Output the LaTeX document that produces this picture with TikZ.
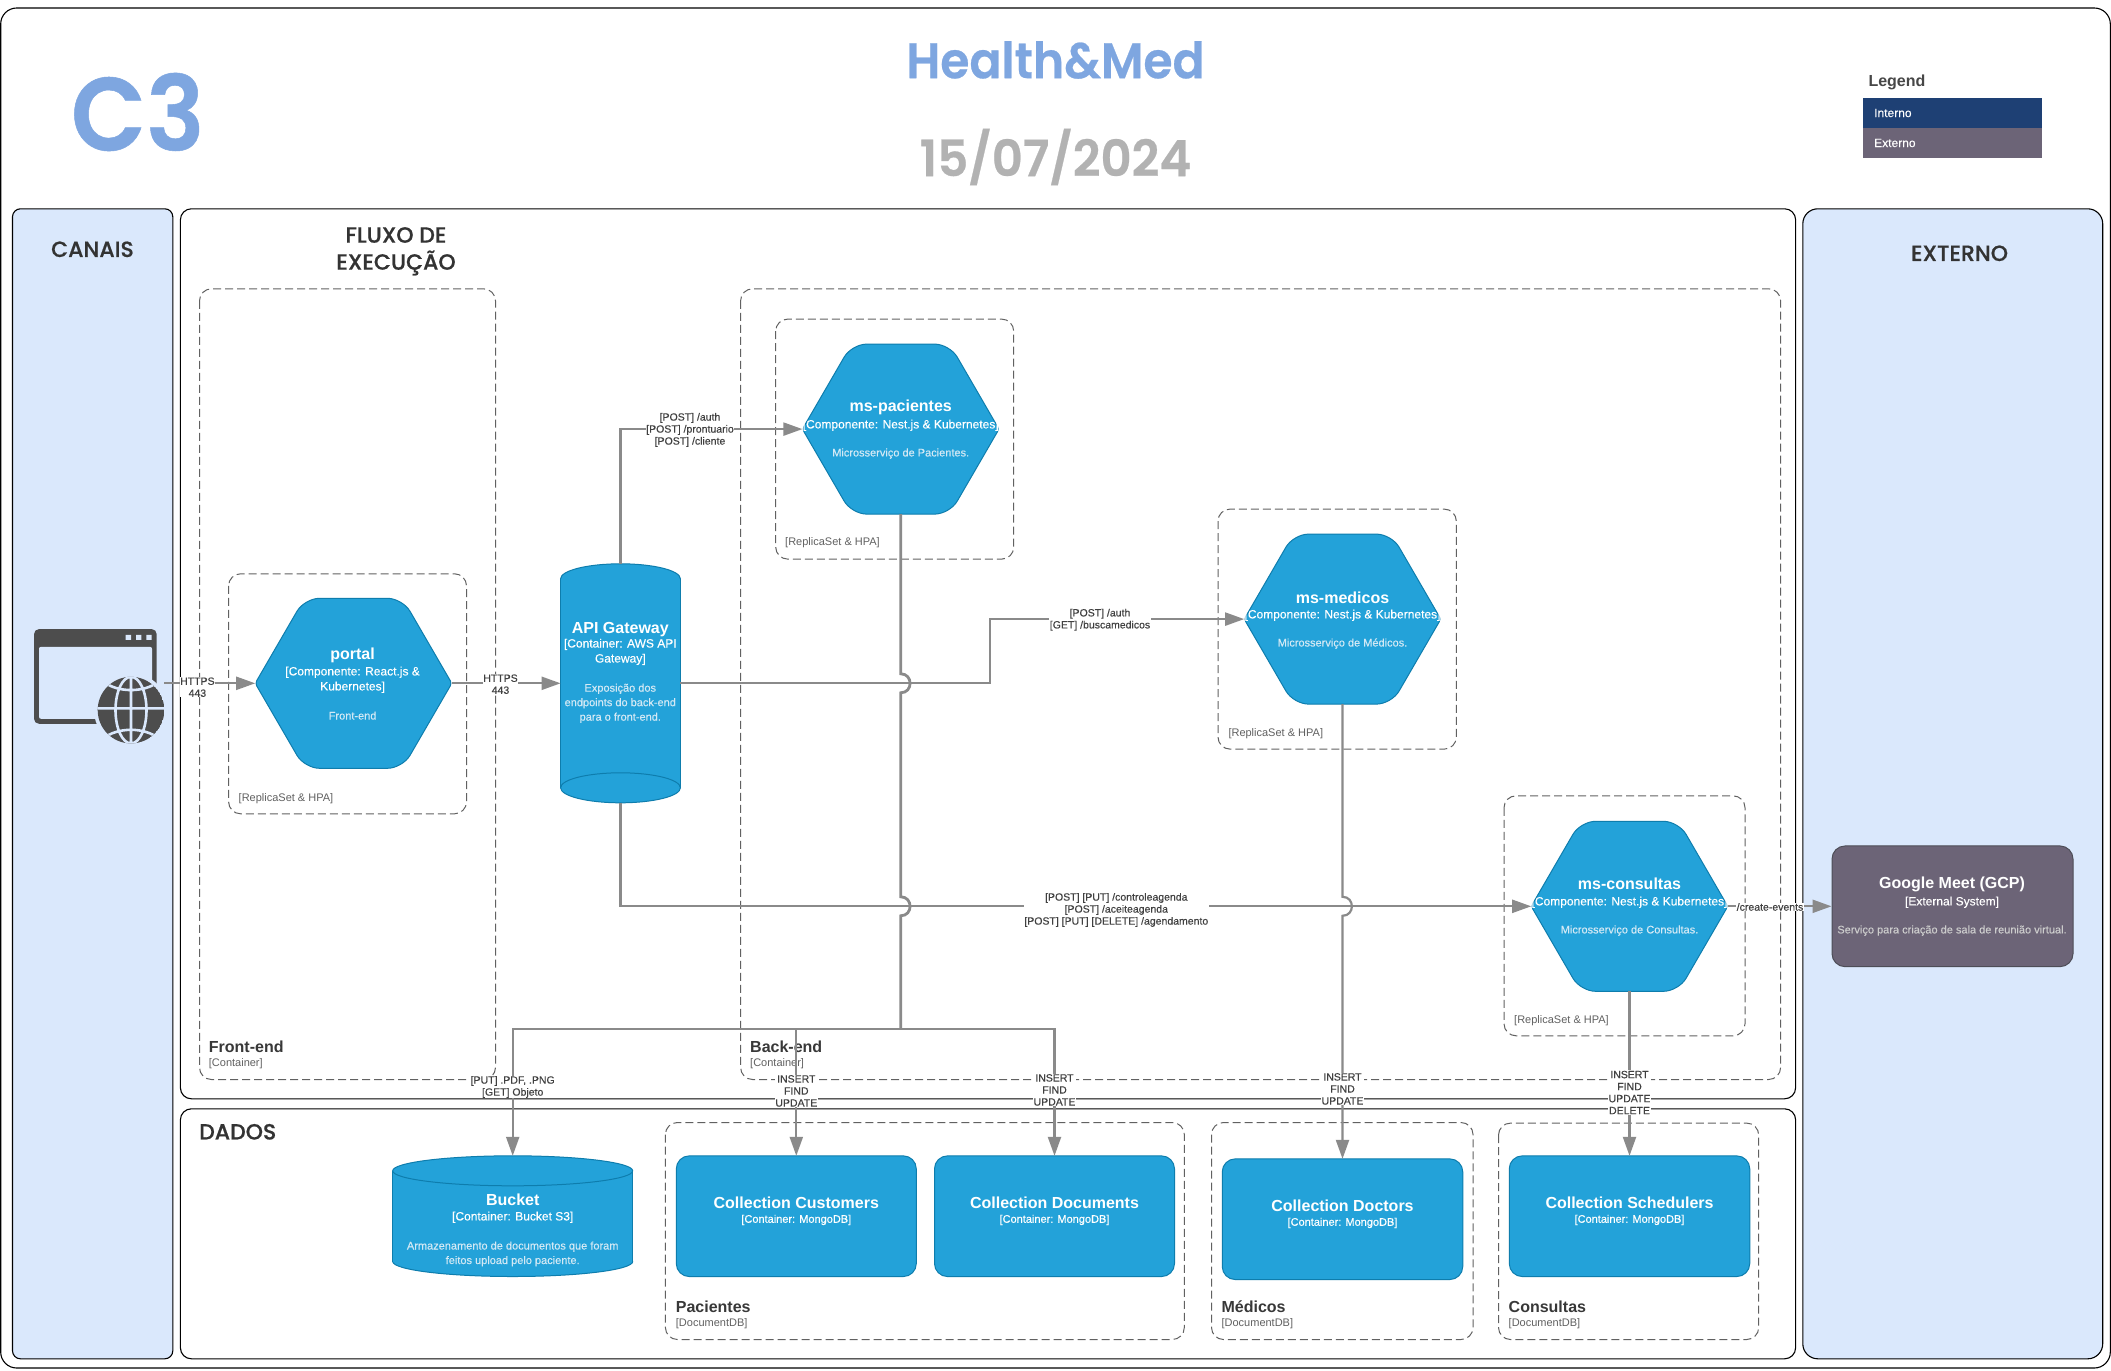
\documentclass[tikz,border=0pt]{standalone}
\usepackage{fontspec}
\setmainfont{Liberation Sans}
\newfontfamily\popfont{Poppins SemiBold}[FakeBold=0.5]
\newfontfamily\headfont{Poppins Medium}[FakeBold=0.7]
\newfontfamily\subfont{Liberation Sans}[FakeBold=0.3]
\usetikzlibrary{arrows.meta,calc}
\definecolor{nodeblue}{HTML}{23A2D9}
\definecolor{nodeedge}{HTML}{0E7DAD}
\definecolor{extgray}{HTML}{6C6477}
\definecolor{extedge}{HTML}{4D4D57}
\definecolor{navy}{HTML}{1E4074}
\definecolor{panelblue}{HTML}{DAE8FC}
\definecolor{edgegray}{HTML}{8A8A8A}
\definecolor{titleblue}{HTML}{7EA6E0}
\definecolor{iconDark}{HTML}{4D4D4D}
\definecolor{descBlue}{HTML}{D3E9F5}
\tikzset{
  panel/.style={draw=black,line width=1.1pt},
  dashbox/.style={draw=black!62,line width=1pt,dash pattern=on 8pt off 4pt,rounded corners=12pt},
  edgeline/.style={draw=edgegray,line width=2.2pt},
  edgearrow/.style={edgeline,-{Triangle[length=19pt,width=13pt]}},
  edgelabel/.style={font=\subfont\fontsize{10.5}{12}\selectfont,text=black!75,fill=white,inner sep=0.5pt,align=center,yshift=-0.4pt},
  blockfill/.style={fill=nodeblue,draw=nodeedge,line width=1pt},
  anchorbox/.style={rectangle,inner sep=0pt,outer sep=0pt,draw=none,fill=none},
  rectblock/.style={rectangle,inner sep=0pt,outer sep=0pt,fill=nodeblue,draw=nodeedge,line width=1pt,rounded corners=13pt},
  nodetitle/.style={font=\fontsize{16}{18}\selectfont\bfseries,text=white,inner sep=0pt,yshift=0pt},
  nodesub/.style={font=\subfont\fontsize{12}{15}\selectfont,text=white,inner sep=0pt,align=center,yshift=-0.8pt},
  smallsub/.style={font=\subfont\fontsize{11}{13}\selectfont,text=white,inner sep=0pt,yshift=-0.8pt},
  nodedesc/.style={font=\subfont\fontsize{11}{14.5}\selectfont,text=descBlue,inner sep=0pt,align=center,yshift=-0.8pt},
  boxtitle/.style={font=\fontsize{16}{18}\selectfont\bfseries,text=black!78,inner sep=0pt,anchor=west,yshift=-0.5pt},
  boxsub/.style={font=\fontsize{11}{13}\selectfont,text=black!62,inner sep=0pt,anchor=west,yshift=-1.5pt},
  heading/.style={font=\headfont\fontsize{22}{27}\selectfont,text=black!80,inner sep=0pt,align=center},
}
\newcommand{\HexNode}[3]{%
  \path[blockfill] (#2-98.3,#3) [rounded corners=15pt] -- (#2-49,#3-85) -- (#2+49,#3-85) [rounded corners=3pt] -- (#2+98.3,#3)
     [rounded corners=15pt] -- (#2+49,#3+85) -- (#2-49,#3+85) [rounded corners=3pt] -- cycle;
  \node[anchorbox,minimum width=196.6pt,minimum height=170pt] (#1) at (#2,#3) {};}
% name, cx, top, bottom, rx: lid on top
\newcommand{\CylTop}[5]{%
  \path[blockfill] (#2,#4-15) ellipse[x radius=#5,y radius=15];
  \fill[nodeblue] (#2-#5,#3+15) rectangle (#2+#5,#4-15);
  \draw[nodeedge,line width=1pt] (#2-#5,#3+15) -- (#2-#5,#4-15) (#2+#5,#3+15) -- (#2+#5,#4-15);
  \path[blockfill] (#2,#3+15) ellipse[x radius=#5,y radius=15];
  \node[anchorbox,minimum width=2*#5,minimum height=#4-#3] (#1) at (#2,{(#3+#4)/2}) {};}
% lid at the bottom
\newcommand{\CylBottom}[5]{%
  \path[blockfill] (#2,#3+15) ellipse[x radius=#5,y radius=15];
  \fill[nodeblue] (#2-#5,#3+15) rectangle (#2+#5,#4-15);
  \draw[nodeedge,line width=1pt] (#2-#5,#3+15) -- (#2-#5,#4-15) (#2+#5,#3+15) -- (#2+#5,#4-15);
  \path[blockfill] (#2,#4-15) ellipse[x radius=#5,y radius=15];
  \node[anchorbox,minimum width=2*#5,minimum height=#4-#3] (#1) at (#2,{(#3+#4)/2}) {};}
\begin{document}
\begin{tikzpicture}[x=1pt,y=-1pt]
\useasboundingbox (0,0) rectangle (2111,1370);
% outer frame
\draw[panel,rounded corners=16pt,fill=white] (0.7,8) rectangle (2110.3,1368);
% titles
\node[font=\popfont\fontsize{104}{110}\selectfont,text=titleblue,inner sep=0pt,transform shape,xscale=0.94] (ctitle) at (137.8,112) {C3};
\node[font=\popfont\fontsize{50}{56}\selectfont,text=titleblue,inner sep=0pt,transform shape,xscale=0.945] (htitle) at (1055.5,60) {Health\&Med};
\node[font=\popfont\fontsize{50}{56}\selectfont,text=black!30,inner sep=0pt,transform shape,xscale=0.965] (dtitle) at (1055.5,157) {15/07/2024};
% legend
\node[font=\fontsize{16}{18}\selectfont\bfseries,text=black!72,inner sep=0pt,anchor=west] (legend) at (1868.3,82.6) {Legend};
\node[rectangle,fill=navy,minimum width=179.6pt,minimum height=30pt,inner sep=0pt] (legint) at (1952.5,113.3) {};
\node[rectangle,fill=extgray,minimum width=179.6pt,minimum height=30pt,inner sep=0pt] (legext) at (1952.5,143.3) {};
\node[font=\subfont\fontsize{12}{14}\selectfont,text=white,inner sep=0pt,anchor=west] (legintt) at (1874,113) {Interno};
\node[font=\subfont\fontsize{12}{14}\selectfont,text=white,inner sep=0pt,anchor=west] (legextt) at (1874,143) {Externo};
\begin{scope}[yshift=-0.8pt]
% panels
\draw[panel,rounded corners=8pt,fill=panelblue] (12.5,208) rectangle (172.8,1358);
\draw[panel,rounded corners=11pt,fill=white] (180.4,208) rectangle (1795.6,1098);
\draw[panel,rounded corners=11pt,fill=white] (180.4,1108) rectangle (1795.6,1358);
\draw[panel,rounded corners=15pt,fill=panelblue] (1802.8,208) rectangle (2102.7,1358);
\node[heading] (hcanais) at (92.5,248.5) {CANAIS};
\node[heading] (hfluxo) at (396,250.5) {FLUXO DE\\EXECUÇÃO};
\node[heading] (hexterno) at (1959.5,252.5) {EXTERNO};
\node[heading,anchor=west] (hdados) at (199,1131) {DADOS};
% dashed boundaries
\draw[dashbox] (199.5,288) rectangle (495.5,1078.7);
\draw[dashbox] (740.6,288) rectangle (1780.6,1078.7);
\draw[dashbox] (228.6,573) rectangle (466.5,813);
\draw[dashbox] (775.7,318.3) rectangle (1013.7,558.3);
\draw[dashbox] (1218,508.3) rectangle (1456.3,748.3);
\draw[dashbox] (1504,795) rectangle (1745,1035);
\draw[dashbox] (665.4,1121.7) rectangle (1184.3,1338.7);
\draw[dashbox] (1211.5,1121.7) rectangle (1473,1338.7);
\draw[dashbox] (1498.5,1122.3) rectangle (1758.7,1338.7);
% boundary captions
\node[boxtitle] (tfront) at (208.7,1045.5) {Front-end};
\node[boxsub] (sfront) at (208.7,1061) {[Container]};
\node[boxtitle] (tback) at (750,1045.5) {Back-end};
\node[boxsub] (sback) at (750,1061) {[Container]};
\node[boxsub] (rportal) at (238.5,796.5) {[ReplicaSet \& HPA]};
\node[boxsub] (rpac) at (785,540.7) {[ReplicaSet \& HPA]};
\node[boxsub] (rmed) at (1228.3,731) {[ReplicaSet \& HPA]};
\node[boxsub] (rcons) at (1514,1018.5) {[ReplicaSet \& HPA]};
\node[boxtitle] (tpacd) at (675.7,1305) {Pacientes};
\node[boxsub] (spacd) at (675.7,1321) {[DocumentDB]};
\node[boxtitle] (tmedd) at (1221.4,1305) {Médicos};
\node[boxsub] (smedd) at (1221.4,1321) {[DocumentDB]};
\node[boxtitle] (tconsd) at (1508.5,1305) {Consultas};
\node[boxsub] (sconsd) at (1508.5,1321) {[DocumentDB]};
% icon
\fill[iconDark,rounded corners=5pt] (34,628.3) rectangle (156.7,723);
\fill[panelblue,rounded corners=2pt] (39,646) rectangle (152,718);
\fill[panelblue] (125.7,634) rectangle (131,639) (136,634) rectangle (141.3,639) (146.3,634) rectangle (151.7,639);
\fill[panelblue] (131,709.3) circle[radius=37];
\begin{scope}
  \clip (131,709.3) circle[radius=33.3];
  \fill[iconDark] (131,709.3) circle[radius=33.3];
  \draw[panelblue,line width=2.6pt] (131,670) -- (131,750)
     (131,709.3) ellipse[x radius=15.5,y radius=33.3]
     (98,707.5) -- (164,707.5)
     (104,681) .. controls (117,692) and (145,692) .. (158,681)
     (103,738) .. controls (117,726) and (145,726) .. (159,738);
\end{scope}
\coordinate (iconout) at (164,682.5);
% blocks
\HexNode{portal}{353.5}{682.5}
\HexNode{pac}{900.7}{428.3}
\HexNode{med}{1342.5}{618.3}
\HexNode{cons}{1629.5}{905.5}
\CylBottom{api}{620.5}{563}{802}{59.9}
\CylTop{bucket}{512.7}{1155}{1275.7}{120}
\node[rectblock,minimum width=240pt,minimum height=120.7pt] (cust) at (796.3,1215.4) {};
\node[rectblock,minimum width=240pt,minimum height=120.7pt] (docs) at (1054.5,1215.4) {};
\node[rectblock,minimum width=240.5pt,minimum height=120.7pt] (doct) at (1342.5,1218.4) {};
\node[rectblock,minimum width=240.5pt,minimum height=120.7pt] (sched) at (1629.5,1215.4) {};
\node[rectangle,fill=extgray,draw=extedge,line width=1pt,rounded corners=13pt,inner sep=0pt,minimum width=241pt,minimum height=120.7pt] (gmeet) at (1952.5,905.5) {};
% connector way points
\coordinate (turnmed) at (990.3,682.5);
\coordinate (bus) at (900.7,1028);
\coordinate (ja1) at (900.7,673);
\coordinate (ja2) at (900.7,692);
\coordinate (jb1) at (900.7,896);
\coordinate (jb2) at (900.7,915);
\coordinate (jc1) at (1342.5,896);
\coordinate (jc2) at (1342.5,915);
% connectors
\draw[edgearrow] (iconout) -- (portal.west);
\draw[edgearrow] (portal.east) -- (api.west);
\draw[edgearrow] (api.north) |- (pac.west);
\draw[edgearrow] (api.east) -- (turnmed) |- (med.west);
\draw[edgearrow] (api.south) |- (cons.west);
\draw[edgearrow] (cons.east) -- (gmeet.west);
\draw[edgeline,line width=2.8pt] (pac.south) -- (ja1) .. controls +(12.5,0) and +(12.5,0) .. (ja2) -- (jb1) .. controls +(12.5,0) and +(12.5,0) .. (jb2) -- (bus);
\draw[edgearrow] (bus) -| (bucket.north);
\draw[edgearrow] (bus) -| (cust.north);
\draw[edgearrow] (bus) -| (docs.north);
\draw[edgearrow] (med.south) -- (jc1) .. controls +(12.5,0) and +(12.5,0) .. (jc2) -- (doct.north);
\draw[edgearrow] (cons.south) -- (sched.north);
% connector labels
\node[edgelabel] (l1) at (197.4,686) {HTTPS\\443};
\node[edgelabel] (l2) at (500.5,683) {HTTPS\\443};
\node[edgelabel] (l3) at (690,428.7) {{[POST]} /auth\\{[POST]} /prontuario\\{[POST]} /cliente};
\node[edgelabel] (l4) at (1100,618.5) {{[POST]} /auth\\{[GET]} /buscamedicos};
\node[edgelabel] (l5) at (1116.3,908.7) {{[POST]} [PUT] /controleagenda\\{[POST]} /aceiteagenda\\{[POST]} [PUT] [DELETE] /agendamento};
\node[edgelabel] (l6) at (1770,905.7) {/create-events};
\node[edgelabel] (l7) at (512.7,1085.7) {{[PUT]} .PDF, .PNG\\{[GET]} Objeto};
\node[edgelabel] (l8) at (796.3,1089.7) {INSERT\\FIND\\UPDATE};
\node[edgelabel] (l9) at (1054.5,1088.7) {INSERT\\FIND\\UPDATE};
\node[edgelabel] (l10) at (1342.5,1087.7) {INSERT\\FIND\\UPDATE};
\node[edgelabel] (l11) at (1629.5,1091.3) {INSERT\\FIND\\UPDATE\\DELETE};
% block texts
\node[nodetitle] (t1) at (352.6,655) {portal};
\node[nodesub] (t2) at (352.6,678.2) {{[Componente:} React.js \&\\Kubernetes]};
\node[nodedesc] (t3) at (352.6,714) {Front-end};
\node[nodetitle] (t4) at (620.3,628.3) {API Gateway};
\node[nodesub] (t5) at (620.3,650.3) {{[Container:} AWS API\\Gateway]};
\node[nodedesc] (t6) at (620.3,701.7) {Exposição dos\\endpoints do back-end\\para o front-end.};
\node[nodetitle] (t7) at (900.7,406.7) {ms-pacientes};
\node[nodesub] (t8) at (900.7,423.7) {{[Componente:} Nest.js \& Kubernetes]};
\node[nodedesc] (t9) at (900.7,452) {Microsserviço de Pacientes.};
\node[nodetitle] (t10) at (1342.5,596.7) {ms-medicos};
\node[nodesub] (t11) at (1342.5,613.7) {{[Componente:} Nest.js \& Kubernetes]};
\node[nodedesc] (t12) at (1342.5,642) {Microsserviço de Médicos.};
\node[nodetitle] (t13) at (1629.5,883.3) {ms-consultas};
\node[nodesub] (t14) at (1629.5,900.7) {{[Componente:} Nest.js \& Kubernetes]};
\node[nodedesc] (t15) at (1629.5,929) {Microsserviço de Consultas.};
\node[nodetitle] (t16) at (1952,883.3) {Google Meet (GCP)};
\node[nodesub] (t17) at (1952,900.7) {{[External} System]};
\node[nodedesc,text=black!20] (t18) at (1952,929) {Serviço para criação de sala de reunião virtual.};
\node[nodetitle] (t19) at (512.7,1199.3) {Bucket};
\node[nodesub] (t20) at (512.7,1215.7) {{[Container:} Bucket S3]};
\node[nodedesc] (t21) at (512.7,1252.3) {Armazenamento de documentos que foram\\feitos upload pelo paciente.};
\node[nodetitle] (t22) at (796.3,1202.3) {Collection Customers};
\node[smallsub] (t23) at (796.3,1218.3) {[Container: MongoDB]};
\node[nodetitle] (t24) at (1054.5,1202.3) {Collection Documents};
\node[smallsub] (t25) at (1054.5,1218.3) {[Container: MongoDB]};
\node[nodetitle] (t26) at (1342.5,1205.3) {Collection Doctors};
\node[smallsub] (t27) at (1342.5,1221.3) {[Container: MongoDB]};
\node[nodetitle] (t28) at (1629.5,1202.3) {Collection Schedulers};
\node[smallsub] (t29) at (1629.5,1218.3) {[Container: MongoDB]};
\end{scope}
\end{tikzpicture}
\end{document}
